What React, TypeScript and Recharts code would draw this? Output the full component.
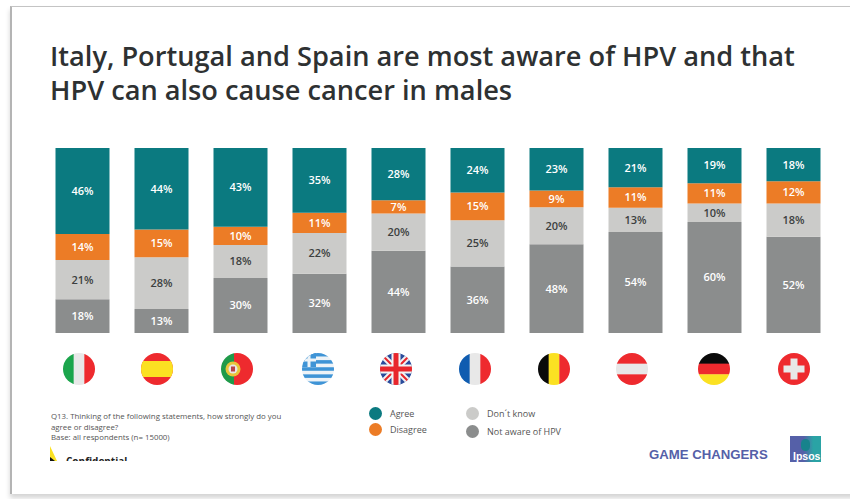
import React from 'react';
import { BarChart, Bar, XAxis, YAxis, LabelList, Legend } from 'recharts';

const countries = ['Italy', 'Spain', 'Portugal', 'Greece', 'UK', 'France', 'Belgium', 'Austria', 'Germany', 'Switzerland'];
const agree = [46, 44, 43, 35, 28, 24, 23, 21, 19, 18];
const disagree = [14, 15, 10, 11, 7, 15, 9, 11, 11, 12];
const dontKnow = [21, 28, 18, 22, 20, 25, 20, 13, 10, 18];
const notAware = [18, 13, 30, 32, 44, 36, 48, 54, 60, 52];

const TEAL = '#0b7a80';
const ORANGE = '#ec7c26';
const LIGHT = '#cbcbc9';
const DARK = '#8b8d8d';

const data = countries.map((country, i) => ({
  country,
  agree: agree[i],
  disagree: disagree[i],
  dontKnow: dontKnow[i],
  notAware: notAware[i],
}));

const pct = (v: any) => `${v}%`;
const labelFont = { fontFamily: 'Open Sans', fontSize: 11, fontWeight: 600 };

// stripes are drawn in a 32x32 box, clipped to a circle
const Stripes = ({ colors, vertical }: { colors: string[]; vertical?: boolean }) => (
  <>
    {colors.map((c, i) => {
      const s = 32 / colors.length;
      return vertical
        ? <rect key={i} x={-16 + i * s} y={-16} width={s + 0.3} height={32} fill={c} />
        : <rect key={i} x={-16} y={-16 + i * s} width={32} height={s + 0.3} fill={c} />;
    })}
  </>
);

const flagArt: Record<string, React.ReactNode> = {
  Italy: <Stripes vertical colors={['#1ba54c', '#e8e8e8', '#ee2a2e']} />,
  Spain: (
    <>
      <rect x={-16} y={-16} width={32} height={32} fill="#ee2a2e" />
      <rect x={-16} y={-8} width={32} height={16} fill="#fbe122" />
    </>
  ),
  Portugal: (
    <>
      <rect x={-16} y={-16} width={13} height={32} fill="#1f9a49" />
      <rect x={-3} y={-16} width={19} height={32} fill="#ee2a2e" />
      <circle cx={-4} cy={0} r={7.5} fill="#e9c53a" />
      <circle cx={-4} cy={0} r={4.5} fill="#e8e8e8" />
      <rect x={-6} y={-2.5} width={4} height={5} fill="#b9434a" />
    </>
  ),
  Greece: (
    <>
      <Stripes colors={['#3f94d6', '#eef3f7', '#3f94d6', '#eef3f7', '#3f94d6', '#eef3f7', '#3f94d6', '#eef3f7', '#3f94d6']} />
      <rect x={-16} y={-16} width={14} height={14} fill="#3f94d6" />
      <rect x={-10.5} y={-16} width={3} height={14} fill="#eef3f7" />
      <rect x={-16} y={-10.5} width={14} height={3} fill="#eef3f7" />
    </>
  ),
  UK: (
    <>
      <rect x={-16} y={-16} width={32} height={32} fill="#2a4b9b" />
      <path d="M-16 -16L16 16M16 -16L-16 16" stroke="#f2f2f2" strokeWidth={6} />
      <path d="M-16 -16L16 16M16 -16L-16 16" stroke="#e8262c" strokeWidth={2} />
      <path d="M0 -16V16M-16 0H16" stroke="#f2f2f2" strokeWidth={9} />
      <path d="M0 -16V16M-16 0H16" stroke="#e8262c" strokeWidth={5} />
    </>
  ),
  France: <Stripes vertical colors={['#0f5cb0', '#e8e8e8', '#ee2a2e']} />,
  Belgium: <Stripes vertical colors={['#0a0a0a', '#fbe122', '#ee2a2e']} />,
  Austria: <Stripes colors={['#ee2a2e', '#e8e8e8', '#ee2a2e']} />,
  Germany: <Stripes colors={['#0a0a0a', '#ee2a2e', '#fbe122']} />,
  Switzerland: (
    <>
      <rect x={-16} y={-16} width={32} height={32} fill="#ee2a2e" />
      <rect x={-3.5} y={-10.5} width={7} height={21} fill="#e8e8e8" />
      <rect x={-10.5} y={-3.5} width={21} height={7} fill="#e8e8e8" />
    </>
  ),
};

const flagNudge: Record<string, number> = {
  Italy: -3, Spain: -4, Portugal: -3, Greece: -1, UK: -2, France: -2, Belgium: -2, Austria: -3, Germany: 0, Switzerland: 1,
};

const FlagTick = (props: any) => {
  const { x, y, payload } = props;
  const name = payload.value as string;
  return (
    <g transform={`translate(${x + flagNudge[name]},${y + 28})`}>
      <clipPath id={`flag-${name}`}><circle r={16} /></clipPath>
      <g clipPath={`url(#flag-${name})`}>{flagArt[name]}</g>
    </g>
  );
};

const legendSpots: Record<string, React.CSSProperties> = {
  Agree: { left: 369, top: 407 },
  Disagree: { left: 369, top: 423 },
  "Don't know": { left: 466, top: 407 },
  'Not aware of HPV': { left: 466, top: 425 },
};

const renderLegend = (props: any) => (
  <div>
    {[...props.payload].map((p: any) => (
      <div key={p.value} style={{ position: 'absolute', display: 'flex', alignItems: 'center', ...legendSpots[p.value] }}>
        <span style={{ width: 13, height: 13, borderRadius: 7, background: p.color, marginRight: 8 }} />
        <span style={{ fontFamily: 'Open Sans', fontSize: 9, color: '#555', whiteSpace: 'nowrap' }}>{p.value === "Don't know" ? 'Don´t know' : p.value}</span>
      </div>
    ))}
  </div>
);

const abs = (s: React.CSSProperties): React.CSSProperties => ({ position: 'absolute', ...s });

export default function App() {
  return (
    <div style={abs({ left: 0, top: 0, width: 850, height: 499, background: '#fff', overflow: 'hidden' })}>
      {/* slide frame */}
      <div style={abs({ left: 10, top: 6, width: 860, height: 487, borderLeft: '2px solid #b4b4b4', borderTop: '1px solid #c4c4c4', boxShadow: '0 4px 5px #d4d4d4' })} />

      <div style={abs({ left: 50, top: 39, width: 795, fontFamily: 'Open Sans', fontWeight: 600, fontSize: 27.2, lineHeight: '34px', color: '#2e3132', whiteSpace: 'nowrap' })}>
        Italy, Portugal and Spain are most aware of HPV and that<br />
        HPV can also cause cancer in males
      </div>

      <div style={abs({ left: 0, top: 0 })}>
        <BarChart
          width={850}
          height={499}
          data={data}
          stackOffset="expand"
          barSize={54}
          margin={{ top: 148, right: 17.5, bottom: 0, left: 42.5 }}
        >
          <XAxis dataKey="country" height={166} axisLine={false} tickLine={false} interval={0} tick={<FlagTick />} />
          <YAxis hide domain={[0, 1]} />
          <Legend content={renderLegend} wrapperStyle={{ left: 0, top: 0, bottom: 'auto', width: 850, height: 0 }} />
          <Bar dataKey="notAware" name="Not aware of HPV" stackId="a" fill={DARK} isAnimationActive={false}>
            <LabelList dataKey="notAware" position="center" formatter={pct} style={labelFont} fill="#fff" />
          </Bar>
          <Bar dataKey="dontKnow" name="Don't know" stackId="a" fill={LIGHT} isAnimationActive={false}>
            <LabelList dataKey="dontKnow" position="center" formatter={pct} style={labelFont} fill="#3c3f40" />
          </Bar>
          <Bar dataKey="disagree" name="Disagree" stackId="a" fill={ORANGE} isAnimationActive={false}>
            <LabelList dataKey="disagree" position="center" formatter={pct} style={labelFont} fill="#fff" />
          </Bar>
          <Bar dataKey="agree" name="Agree" stackId="a" fill={TEAL} isAnimationActive={false}>
            <LabelList dataKey="agree" position="center" formatter={pct} style={labelFont} fill="#fff" />
          </Bar>
        </BarChart>
      </div>

      {/* footnote */}
      <div style={abs({ left: 51, top: 411, width: 260, fontFamily: 'Open Sans', fontSize: 7.85, lineHeight: '10.7px', color: '#555', whiteSpace: 'nowrap' })}>
        Q13. Thinking of the following statements, how strongly do you<br />
        agree or disagree?<br />
        Base: all respondents (n= 15000)
      </div>

      {/* cut off confidential strip, the source slide clips it as well */}
      <div style={abs({ left: 48, top: 445, width: 150, height: 16, overflow: 'hidden' })}>
        <svg width={10} height={16} style={{ position: 'absolute', left: 0, top: 0 }}>
          <path d="M2 1L9 16H2Z" fill="#fbe122" />
          <path d="M2 12L7 16H2Z" fill="#111" />
        </svg>
        <div style={abs({ left: 18, top: 9, fontFamily: 'Open Sans', fontWeight: 700, fontSize: 10, color: '#222', whiteSpace: 'nowrap' })}>Confidential</div>
      </div>

      <div style={abs({ left: 649, top: 447, fontFamily: 'Liberation Sans', fontWeight: 700, fontSize: 13.2, color: '#5560a8', whiteSpace: 'nowrap' })}>
        GAME CHANGERS
      </div>

      {/* Ipsos logo */}
      <div style={abs({ left: 790, top: 436, width: 31, height: 26, background: 'linear-gradient(90deg, #5560a8 45%, #2aa3a5 75%)', overflow: 'hidden' })}>
        <div style={abs({ left: 11, top: 3, width: 9, height: 12, background: '#17838c', borderRadius: 5 })} />
        <div style={abs({ left: 3, bottom: 0, fontFamily: 'Liberation Sans', fontWeight: 700, fontSize: 10.5, lineHeight: '11px', color: '#fff' })}>Ipsos</div>
      </div>
    </div>
  );
}
